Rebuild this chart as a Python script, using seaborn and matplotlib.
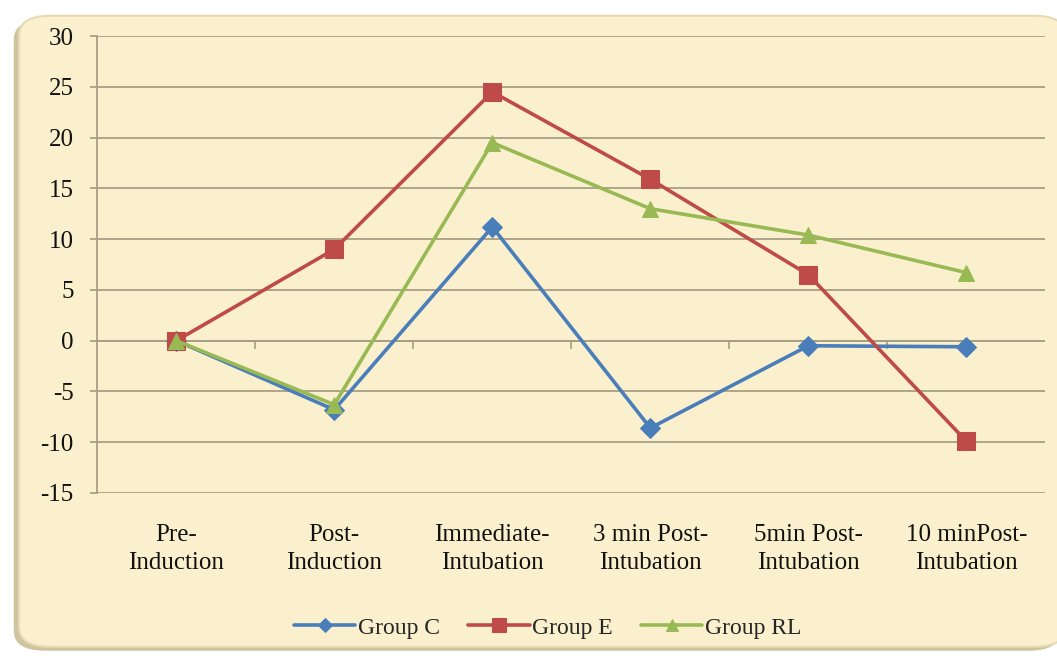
import pandas as pd
import matplotlib.pyplot as plt
import numpy as np
import seaborn as sns
from matplotlib.patches import FancyBboxPatch

# time points on the x axis
stages = ['Pre-\nInduction', 'Post-\nInduction', 'Immediate-\nIntubation',
          '3 min Post-\nIntubation', '5min Post-\nIntubation', '10 minPost-\nIntubation']

# change values
group_c = [0, -6.8, 11.2, -8.6, -0.5, -0.6]
group_e = [0, 9.0, 24.5, 15.9, 6.5, -9.9]
group_rl = [0, -6.3, 19.5, 13.0, 10.4, 6.7]

groups = ['Group C', 'Group E', 'Group RL']
colors = {'Group C': '#4A7EBB', 'Group E': '#BE4B48', 'Group RL': '#98B954'}
markers = {'Group C': 'D', 'Group E': 's', 'Group RL': '^'}
msizes = {'Group C': 10, 'Group E': 13, 'Group RL': 12}

df = pd.DataFrame({
    'Stage': stages * 3,
    'Value': group_c + group_e + group_rl,
    'Group': np.repeat(groups, len(stages)),
})

sns.set_style('white')
plt.rcParams['font.family'] = ['Liberation Serif', 'DejaVu Serif']
plt.rcParams['axes.unicode_minus'] = False

fig = plt.figure(figsize=(10.57, 6.56), dpi=100)
fig.patch.set_facecolor('white')

# parchment panel with a soft shadow
shadow = FancyBboxPatch((0.013, 0.008), 0.99, 0.962,
                        boxstyle='round,pad=0,rounding_size=0.03',
                        transform=fig.transFigure, facecolor='#CFC4A0',
                        edgecolor='none', zorder=-3)
panel = FancyBboxPatch((0.018, 0.014), 0.99, 0.962,
                       boxstyle='round,pad=0,rounding_size=0.03',
                       transform=fig.transFigure, facecolor='#FBF0CD',
                       edgecolor='#E6DAB2', linewidth=1.5, zorder=-2)
fig.patches.extend([shadow, panel])

ax = fig.add_axes([0.092, 0.2485, 0.897, 0.6965])
ax.set_facecolor('none')

for g in groups:
    sub = df[df['Group'] == g]
    sns.lineplot(data=sub, x='Stage', y='Value', ax=ax, sort=False,
                 color=colors[g], marker=markers[g], markersize=msizes[g],
                 markeredgecolor=colors[g], linewidth=2.6, label=g, zorder=3)

ax.set_ylim(-15, 30)
ax.set_yticks(np.arange(-15, 31, 5))
ax.set_xlim(-0.5, len(stages) - 0.5)
ax.grid(axis='y', color='#A8A084', linewidth=1.3)
ax.grid(axis='x', visible=False)
ax.set_axisbelow(True)

for side in ['top', 'right', 'bottom']:
    ax.spines[side].set_visible(False)
ax.spines['left'].set_color('#A8A084')
ax.spines['left'].set_linewidth(1.3)

# category axis crossing at zero with small boundary ticks
ax.axhline(0, color='#A8A084', linewidth=1.3, zorder=1)
ax.vlines(np.arange(0.5, len(stages) - 0.5), -0.8, 0, color='#A8A084',
          linewidth=1.2, zorder=1)

ax.tick_params(axis='y', length=5, width=1.3, color='#A8A084', pad=12,
               labelsize=18, labelcolor='#111111', left=True)
ax.tick_params(axis='x', length=0, pad=22, labelsize=18, labelcolor='#111111')
for lbl in ax.get_xticklabels():
    lbl.set_linespacing(1.4)
ax.set_xlabel('')
ax.set_ylabel('')

ax.get_legend().remove()
handles, labels = ax.get_legend_handles_labels()
fig.legend(handles, labels, loc='center', bbox_to_anchor=(0.518, 0.043), ncol=3,
           frameon=False, fontsize=17, handlelength=2.6, handletextpad=0.1,
           columnspacing=1.2, markerscale=0.75)

fig.savefig('out.png', dpi=100)
